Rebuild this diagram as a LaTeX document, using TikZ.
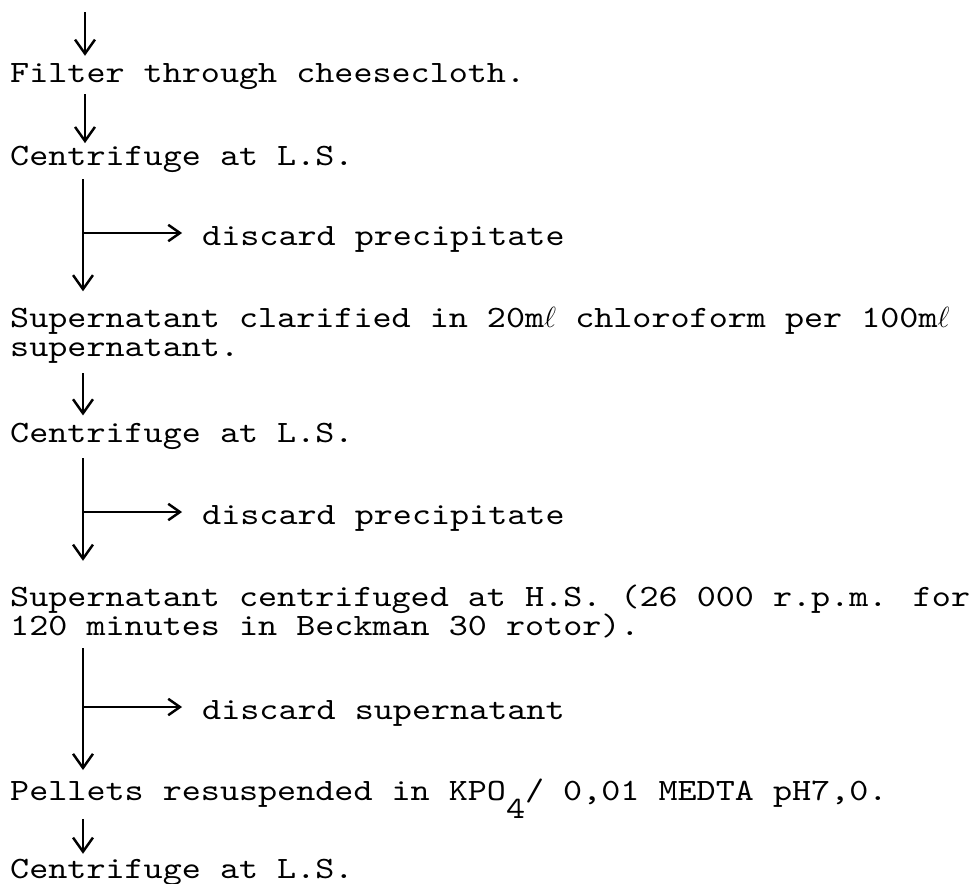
\documentclass[tikz,border=0pt]{standalone}
\usepackage{fontspec}
\usetikzlibrary{arrows.meta}
\newfontfamily\typewr{lmmono10-regular}[Extension=.otf, FakeStretch=1.17]

\begin{document}
\begin{tikzpicture}[x=0.03cm, y=-0.03cm,
  every node/.style={font=\typewr\fontsize{26.5}{24.75}\selectfont, inner sep=0pt, anchor=base west, align=left},
  flow/.style={line width=2.4pt, -{Straight Barb[length=12pt,width=17pt,line width=2.1pt]}},
  side/.style={line width=2.4pt, -{Straight Barb[length=10pt,width=14pt,line width=2.1pt]}}]
  \useasboundingbox (0,0) rectangle (976,883);
  \coordinate (top) at (85,12);
  \coordinate (spine) at (83,0);
  % steps (a two-line node sits on its last line)
  \node (filt) at (10,82) {Filter through cheesecloth.};
  \node (cfA) at (10,165) {Centrifuge at L.S.};
  \node (supA) at (10,356) {Supernatant clarified in 20m\(\ell\) chloroform per 100m\(\ell\)\\supernatant.};
  \node (cfB) at (10,442) {Centrifuge at L.S.};
  \node (supB) at (10,635) {Supernatant centrifuged at H.S. (26 000 r.p.m. for\\120 minutes in Beckman 30 rotor).};
  \node (pell) at (10,800) {Pellets resuspended in KPO\raisebox{-0.6em}{4}/ 0,01 MEDTA pH7,0.};
  \node (cfC) at (10,878) {Centrifuge at L.S.};
  % discards
  \node (disA) at (202,245) {discard precipitate};
  \node (disB) at (202,524) {discard precipitate};
  \node (disC) at (202,719) {discard supernatant};
  \coordinate (brA) at (83,233);
  \coordinate (brB) at (83,512);
  \coordinate (brC) at (83,707);
  % connectors
  \draw[flow, shorten >=6pt] (top) -- (filt.north -| top);
  \draw[flow, shorten <=4pt, shorten >=2pt] (filt.south -| top) -- (cfA.north -| top);
  \draw[flow, shorten <=6pt, shorten >=13pt] (cfA.south -| spine) -- (supA.north -| spine);
  \draw[side, shorten >=17pt] (brA) -- (brA -| disA.west);
  \draw[flow, shorten <=8.5pt, shorten >=6pt] (supA.south -| spine) -- (cfB.north -| spine);
  \draw[flow, shorten <=7.7pt, shorten >=20pt] (cfB.south -| spine) -- (supB.north -| spine);
  \draw[side, shorten >=17pt] (brB) -- (brB -| disB.west);
  \draw[flow, shorten <=9pt, shorten >=7pt] (supB.south -| spine) -- (pell.north -| spine);
  \draw[side, shorten >=17pt] (brC) -- (brC -| disC.west);
  \draw[flow, shorten >=4pt] (pell.south -| spine) -- (cfC.north -| spine);
\end{tikzpicture}
\end{document}
